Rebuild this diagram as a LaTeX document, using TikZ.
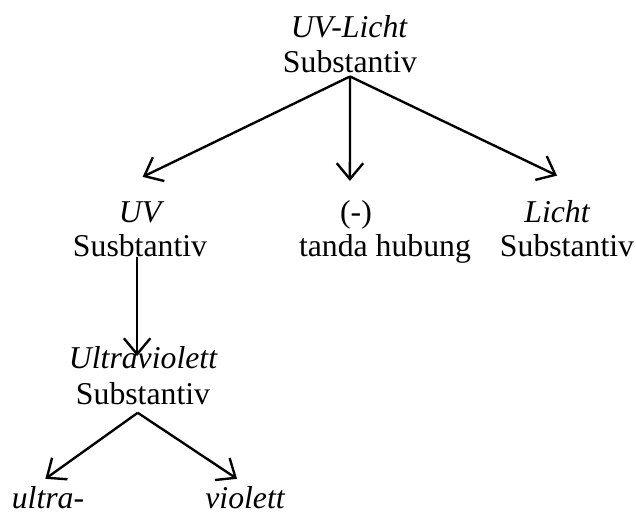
\documentclass[tikz,border=0pt]{standalone}
\usepackage{fontspec}
\setmainfont{Liberation Serif}
\usetikzlibrary{arrows.meta}
\newcommand{\treefont}{\fontsize{12}{14}\selectfont}
\begin{document}
\begin{tikzpicture}[x=0.378pt,y=-0.378pt,
	lbl/.style={inner sep=0pt,anchor=base,font=\treefont},
	wrd/.style={lbl,font=\treefont\itshape},
	arr/.style={-{Straight Barb[length=6pt,width=10pt]},line width=0.9pt}]
	\useasboundingbox (0,0) rectangle (636,516);
	% akar
	\node[wrd] (uvlicht) at (349,38) {UV-Licht};
	\node[lbl] (uvlichtkat) at (350,73) {Substantiv};
	% tingkat 2
	\node[wrd] (uv) at (140,222) {UV};
	\node[lbl] (uvkat) at (140,256) {Susbtantiv};
	\node[lbl] (hub) at (356,222) {(-)};
	\node[lbl] (hubkat) at (385,256) {tanda hubung};
	\node[wrd] (licht) at (557,222) {Licht};
	\node[lbl] (lichtkat) at (567,256) {Substantiv};
	% tingkat 3
	\node[wrd] (ultrav) at (143,368) {Ultraviolett};
	\node[lbl] (ultravkat) at (143,404) {Substantiv};
	% tingkat 4
	\node[wrd] (ultra) at (48,508) {ultra-};
	\node[wrd] (violett) at (245,508) {violett};
	\draw[arr] ([yshift=-1pt]uvlichtkat.south) -- ([xshift=1pt,yshift=9pt]uv.north);
	\draw[arr] ([yshift=-1pt]uvlichtkat.south) -- ([xshift=-2.3pt,yshift=7pt]hub.north);
	\draw[arr] ([yshift=-1pt]uvlichtkat.south) -- ([yshift=9pt]licht.north);
	\draw[arr] ([xshift=-1.1pt]uvkat.south) -- ([xshift=-1.1pt,yshift=-4pt]uvkat.south |- ultrav.north);
	\draw[arr] ([xshift=-2pt,yshift=-3pt]ultravkat.south) -- ([xshift=-1pt,yshift=2.5pt]ultra.north);
	\draw[arr] ([xshift=-2pt,yshift=-3pt]ultravkat.south) -- ([xshift=-3pt,yshift=2.5pt]violett.north);
\end{tikzpicture}
\end{document}
